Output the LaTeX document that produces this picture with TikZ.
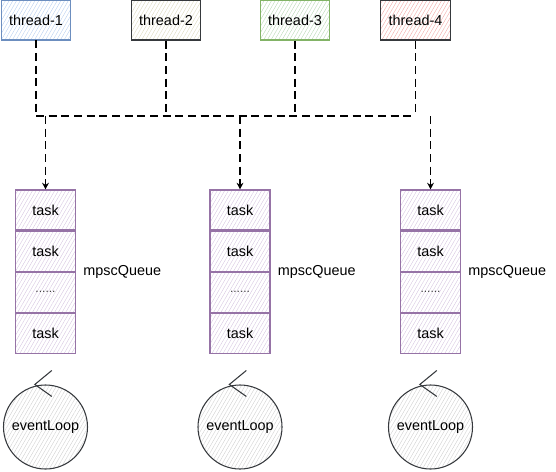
\documentclass[tikz,border=0pt]{standalone}
\usepackage{fontspec}
\setmainfont{Liberation Sans}
\usepackage{xcolor}
\usetikzlibrary{arrows.meta, positioning, patterns.meta}
\definecolor{threadblue}{HTML}{6C8EBF}
\definecolor{threadbluefill}{HTML}{B8CFF0}
\definecolor{threadgreen}{HTML}{82B366}
\definecolor{threadgreenfill}{HTML}{B9D9B6}
\definecolor{threadredfill}{HTML}{F2AAA8}
\definecolor{threadbeige}{HTML}{DCDABF}
\definecolor{darkline}{HTML}{36393D}
\definecolor{queuepurple}{HTML}{9673A6}
\definecolor{queuefill}{HTML}{D6C6E0}
\definecolor{loopfill}{HTML}{D0D0D0}

\begin{document}
\begin{tikzpicture}[x=0.75pt, y=-0.75pt,
    txt/.style={font=\fontsize{10.8}{13}\selectfont},
    hatch/.style={pattern={Lines[angle=60, distance=2.4pt, line width=0.3pt]}, pattern color=#1},
    thread/.style={txt, draw, line width=0.9pt, inner sep=0pt, minimum width=52pt, minimum height=30pt},
    cell/.style={txt, draw=queuepurple, line width=0.8pt, hatch=queuefill, inner sep=0pt, minimum width=45pt, minimum height=30pt},
    eloop/.style={txt, circle, draw=darkline, line width=0.8pt, hatch=loopfill, inner sep=0pt, minimum size=63pt},
    dashline/.style={dash pattern=on 6pt off 3.5pt, line width=0.8pt},
    flow/.style={dashline, -{Stealth[length=5pt, width=5pt]}}]
    \useasboundingbox (0,0) rectangle (556,471);

    % Threads
    \node[thread, draw=threadblue, hatch=threadbluefill] (thread1) at (36,20) {thread-1};
    \node[thread, draw=darkline, hatch=threadbeige] (thread2) at (166,20) {thread-2};
    \node[thread, draw=threadgreen, hatch=threadgreenfill] (thread3) at (295,20) {thread-3};
    \node[thread, draw=darkline, hatch=threadredfill] (thread4) at (415.5,20) {thread-4};

    % Queues and event loops
    \foreach \i/\x in {1/45.5, 2/240, 3/430.5} {
        \node[cell] (cell\i1) at (\x,210) {task};
        \node[cell, below=0pt of cell\i1] (cell\i2) {task};
        \node[cell, below=0pt of cell\i2] (cell\i3) {\color{darkgray}\small......};
        \node[cell, below=0pt of cell\i3] (cell\i4) {task};
        \node[txt, anchor=west, xshift=2pt] (mpsc\i) at (cell\i2.south east) {mpscQueue};

        \node[eloop] (loop\i) at (\x,427) {eventLoop};
        \coordinate (tip\i) at ([xshift=-8pt]loop\i.north);
        \draw[darkline, line width=0.8pt] ([shift={(17,-14)}]tip\i) -- (tip\i) -- ([shift={(17,12)}]tip\i);
    }

    % Connectors
    \coordinate (bus) at (0,116);
    \foreach \t in {1,...,4}
        \draw[dashline] (thread\t.south) -- (thread\t.south |- bus) coordinate (join\t);
    \draw[dashline] (join1) -- (join4);
    \foreach \q in {1,2,3}
        \draw[flow] (bus -| cell\q1.north) coordinate (drop\q) -- (cell\q1.north);
\end{tikzpicture}
\end{document}
